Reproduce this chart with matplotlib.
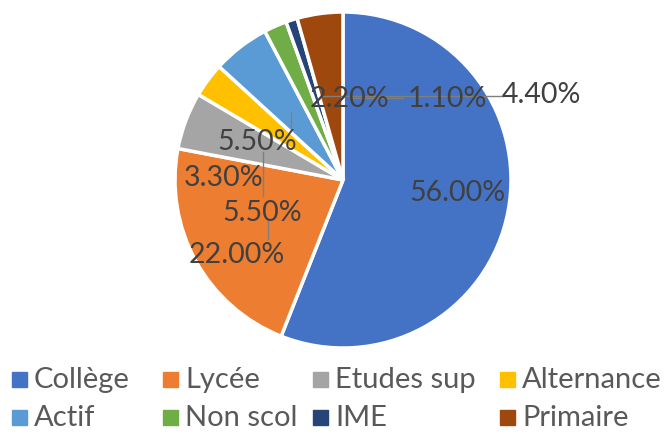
import matplotlib.pyplot as plt
from matplotlib.patches import Rectangle

plt.rcParams['font.family'] = ['Lato', 'DejaVu Sans']

categories = ["Collège", "Lycée", "Etudes sup", "Alternance",
              "Actif", "Non scol", "IME", "Primaire"]
values = [56.0, 22.0, 5.5, 3.3, 5.5, 2.2, 1.1, 4.4]
colors = ["#4472C4", "#ED7D31", "#A5A5A5", "#FFC000",
          "#5B9BD5", "#70AD47", "#264478", "#9E480E"]

# label positions (data units, pie radius = 1)
label_pos = [(0.68, -0.07), (-0.63, -0.44), (-0.48, -0.19), (-0.71, 0.02),
             (-0.51, 0.23), (0.04, 0.49), (0.62, 0.49), (1.18, 0.51)]

W, H = 668, 435
cx, cy, r = 343, 181, 168

fig = plt.figure(figsize=(W / 100, H / 100), dpi=100)
ax = fig.add_axes([(cx - r) / W, (H - cy - r) / H, 2 * r / W, 2 * r / H])
ax.pie(values, colors=colors, startangle=90, counterclock=False,
       wedgeprops=dict(edgecolor="white", linewidth=2.5))
ax.set_xlim(-1, 1)
ax.set_ylim(-1, 1)
ax.set_aspect('auto')
ax.axis('off')

def px(x, y):
    return (x - cx) / r, (cy - y) / r

# leader lines (pixel coords)
leaders = [((268, 220), (268, 240)), ((263, 153), (263, 197)),
           ((291, 113), (291, 128)), ((323, 97), (503, 97)),
           ((350, 99), (403, 99))]
for (x0, y0), (x1, y1) in leaders:
    a, b = px(x0, y0)
    c, d = px(x1, y1)
    ax.plot([a, c], [b, d], color="#7f7f7f", lw=1, zorder=3)

for v, (x, y) in zip(values, label_pos):
    ax.text(x, y, f"{v:.2f}%", ha='center', va='center', fontsize=20.5,
            color="#404040", zorder=4)

# legend
col_x = [12, 163, 313, 500]
row_y = [380, 418]
for i, (name, col) in enumerate(zip(categories, colors)):
    x = col_x[i % 4]
    y = row_y[i // 4]
    fig.patches.append(Rectangle(((x) / W, (H - y - 7.5) / H), 15 / W, 15 / H,
                                 transform=fig.transFigure, color=col))
    fig.text((x + 22) / W, (H - y) / H, name, ha='left', va='center',
             fontsize=21, color="#595959")

fig.savefig("out.png", dpi=100)
